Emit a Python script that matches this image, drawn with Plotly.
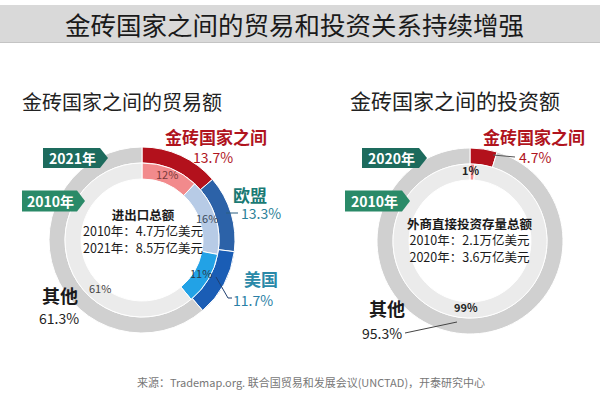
import plotly.graph_objects as go

# ---------------- data ----------------
trade_labels = ["金砖国家之间", "欧盟", "美国", "其他"]
trade_2021 = [13.7, 13.3, 11.7, 61.3]
trade_2010 = [12, 16, 11, 61]
trade_outer_colors = ["#b3111c", "#2c62a8", "#1a5db5", "#d0d0d0"]
trade_inner_colors = ["#f28a8c", "#b7cbe6", "#22a2e6", "#ebebeb"]

invest_labels = ["金砖国家之间", "其他"]
invest_2020 = [4.7, 95.3]
invest_2010 = [1, 99]
invest_outer_colors = ["#b3111c", "#d0d0d0"]
invest_inner_colors = ["#f28a8c", "#ebebeb"]

title = "金砖国家之间的贸易和投资关系持续增强"
left_title = "金砖国家之间的贸易额"
right_title = "金砖国家之间的投资额"
left_years = ["2021年", "2010年"]
right_years = ["2020年", "2010年"]
left_center_text = ["进出口总额", "2010年：4.7万亿美元", "2021年：8.5万亿美元"]
right_center_text = ["外商直接投资存量总额", "2010年：2.1万亿美元", "2020年：3.6万亿美元"]
source = "来源：Trademap.org. 联合国贸易和发展会议(UNCTAD)，开泰研究中心"

W, H = 600, 393
FONT = "Noto Sans CJK SC"


def px(x):
    return x / W


def py(y):
    return 1 - y / H


def dom(cx, cy, r):
    return dict(x=[px(cx - r), px(cx + r)], y=[py(cy + r), py(cy - r)])


R_OUT, R_MID, R_IN = 93, 77, 61
LC = (142, 240)
RC = (470, 241)

fig = go.Figure()


def ring(labels, values, colors, center, r, hole):
    fig.add_trace(go.Pie(
        labels=labels, values=values, sort=False, direction="clockwise",
        rotation=0, hole=hole, domain=dom(center[0], center[1], r),
        marker=dict(colors=colors, line=dict(color="white", width=1)),
        textinfo="none", hoverinfo="label+value", showlegend=False,
    ))


ring(trade_labels, trade_2021, trade_outer_colors, LC, R_OUT, R_MID / R_OUT)
ring(trade_labels, trade_2010, trade_inner_colors, LC, R_MID, R_IN / R_MID)
ring(invest_labels, invest_2020, invest_outer_colors, RC, R_OUT, R_MID / R_OUT)
ring(invest_labels, invest_2010, invest_inner_colors, RC, R_MID, R_IN / R_MID)

shapes = []
ann = []


def text(x, y, s, size, color="#222", bold=False, xanchor="center"):
    ann.append(dict(
        x=px(x), y=py(y), xref="paper", yref="paper", showarrow=False,
        text=f"<b>{s}</b>" if bold else s, xanchor=xanchor, yanchor="middle",
        font=dict(family=FONT, size=size, color=color),
    ))


def line(x0, y0, x1, y1, color, width=1):
    shapes.append(dict(type="line", xref="paper", yref="paper",
                       x0=px(x0), y0=py(y0), x1=px(x1), y1=py(y1),
                       line=dict(color=color, width=width)))


def tag(x0, x1, xp, yc, h, color, label):
    y0, y1 = yc - h / 2, yc + h / 2
    path = (f"M {px(x0)},{py(y0)} L {px(x1)},{py(y0)} L {px(xp)},{py(yc)} "
            f"L {px(x1)},{py(y1)} L {px(x0)},{py(y1)} Z")
    shapes.append(dict(type="path", xref="paper", yref="paper", path=path,
                       fillcolor=color, line=dict(width=0)))
    text((x0 + x1) / 2 + 1, yc, label, 14, "white", bold=True)


# title band
shapes.append(dict(type="rect", xref="paper", yref="paper",
                   x0=0, x1=1, y0=py(43), y1=py(5), fillcolor="#d9d9d9",
                   line=dict(width=0), layer="below"))
line(0, 42.5, 600, 42.5, "#c4c4c4", 1)
text(294, 24, title, 25.5, "#1a1a1a")

# subtitles
text(122, 101, left_title, 20, "#222")
text(455, 100, right_title, 21, "#222")

# year tags
tag(43, 100, 108, 158, 20, "#1d6b5d", left_years[0])
tag(22, 77, 85, 201, 21, "#2a8a68", left_years[1])
tag(362, 419, 427, 158, 20, "#1d6b5d", right_years[0])
tag(345, 402, 410, 201, 21, "#2a8a68", right_years[1])

# left chart labels
text(216, 137, trade_labels[0], 17, "#b0141e", bold=True)
text(213, 157, f"{trade_2021[0]}%", 14, "#b0141e")
text(250, 194, trade_labels[1], 17, "#1a7a74", bold=True)
text(261, 213, f"{trade_2021[1]}%", 14, "#2a7f98")
line(226, 213, 238, 213, "#2a5f80", 1)
text(261, 278, trade_labels[2], 17, "#2a89a8", bold=True)
text(253, 300, f"{trade_2021[2]}%", 14, "#2a7fa6")
shapes.append(dict(type="path", xref="paper", yref="paper",
                   path=f"M {px(216)},{py(277)} L {px(228)},{py(298)} L {px(232)},{py(298)}",
                   line=dict(color="#1f3f70", width=1)))
text(60, 295, trade_labels[3], 18, "#1a1a1a", bold=True)
text(59, 318, f"{trade_2021[3]}%", 14, "#222")

text(167, 174, f"{trade_2010[0]}%", 11, "#7a3a3a")
text(207, 218, f"{trade_2010[1]}%", 11, "#3a4a5a")
text(201, 273, f"{trade_2010[2]}%", 11, "#2a3a4a")
text(100, 288, f"{trade_2010[3]}%", 11, "#444")

text(143, 231, "<b>" + left_center_text[0] + "</b><br>" + "<br>".join(left_center_text[1:]),
     12.5, "#1a1a1a")

# right chart labels
text(534, 137, invest_labels[0], 17, "#b0141e", bold=True)
text(535, 157, f"{invest_2020[0]}%", 14, "#b0141e")
line(493, 155, 515, 157, "#555", 1)
text(387, 308, invest_labels[1], 18, "#1a1a1a", bold=True)
text(382, 333, f"{invest_2020[1]}%", 14, "#222")
line(405, 333, 457, 322, "#444", 1)

text(470, 170, f"{invest_2010[0]}%", 11, "#222", bold=True)
text(466, 307, f"{invest_2010[1]}%", 11, "#222", bold=True)

text(470, 240, "<b>" + right_center_text[0] + "</b><br>" + "<br>".join(right_center_text[1:]),
     12.5, "#1a1a1a")

# source
text(135, 382, source, 11, "#777", xanchor="left")

fig.update_layout(
    width=W, height=H, margin=dict(l=0, r=0, t=0, b=0),
    paper_bgcolor="white", plot_bgcolor="white",
    shapes=shapes, annotations=ann, showlegend=False,
    font=dict(family=FONT),
)

fig.write_html("out.html", config={"displayModeBar": False},
               post_script="document.body.style.margin='0';")
